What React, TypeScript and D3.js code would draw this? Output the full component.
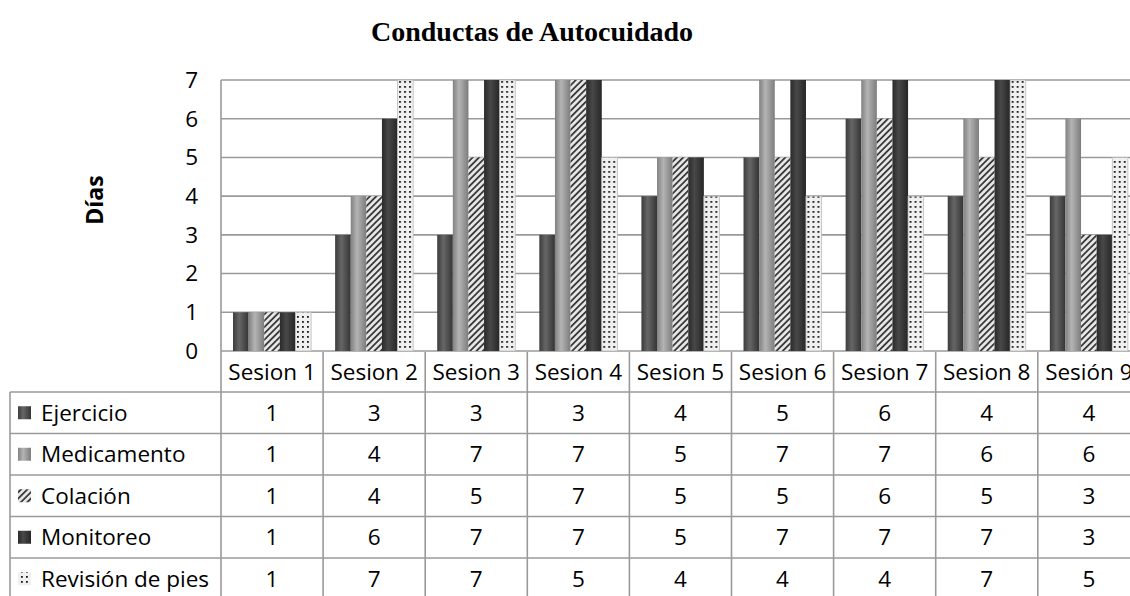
import React from "react";
import * as d3 from "d3";

const sessions = ["Sesion 1", "Sesion 2", "Sesion 3", "Sesion 4", "Sesion 5", "Sesion 6", "Sesion 7", "Sesion 8", "Sesión 9"];
const seriesNames = ["Ejercicio", "Medicamento", "Colación", "Monitoreo", "Revisión de pies"];
const ejercicio = [1, 3, 3, 3, 4, 5, 6, 4, 4];
const medicamento = [1, 4, 7, 7, 5, 7, 7, 6, 6];
const colacion = [1, 4, 5, 7, 5, 5, 6, 5, 3];
const monitoreo = [1, 6, 7, 7, 5, 7, 7, 7, 3];
const revision = [1, 7, 7, 5, 4, 4, 4, 7, 5];
const yTicks = [0, 1, 2, 3, 4, 5, 6, 7];

const seriesValues = [ejercicio, medicamento, colacion, monitoreo, revision];
const fills = ["url(#gEj)", "url(#gMed)", "url(#pCol)", "url(#gMon)", "url(#pRev)"];

const W = 1130;
const H = 596;
const FONT = "'Open Sans', 'Noto Sans', sans-serif";
const FS = 22.5;
const LINE = "#9a9a9a";

const App = () => {
  // scales
  const x = d3.scaleBand().domain(sessions).range([221, 221 + 102.1 * sessions.length]);
  const inner = d3.scaleBand().domain(seriesNames).range([0, x.bandwidth()]).paddingOuter(0.77);
  const y = d3.scaleLinear().domain([0, 7]).range([351, 80]);
  const rowY = d3.scaleBand().domain(seriesNames).range([392, 392 + 41.5 * seriesNames.length]);

  const cyl = (id, a, b, c) => (
    <linearGradient id={id} x1="0" x2="1" y1="0" y2="0">
      <stop offset="0" stopColor={a} />
      <stop offset="0.4" stopColor={b} />
      <stop offset="1" stopColor={c} />
    </linearGradient>
  );

  return (
    <svg width={W} height={H} style={{ position: "absolute", left: 0, top: 0, background: "#fff" }}>
      <defs>
        {cyl("gEj", "#3c3c3c", "#666", "#353535")}
        {cyl("gMed", "#818181", "#b4b4b4", "#7c7c7c")}
        {cyl("gMon", "#2a2a2a", "#484848", "#262626")}
        <pattern id="pCol" width="4.5" height="4.5" patternUnits="userSpaceOnUse" patternTransform="rotate(45)">
          <rect width="4.5" height="4.5" fill="#e6e6e6" />
          <rect width="1.8" height="4.5" fill="#3a3a3a" />
        </pattern>
        <pattern id="pRev" width="5" height="5" patternUnits="userSpaceOnUse">
          <rect width="5" height="5" fill="#f0f0f0" />
          <rect x="1" y="1" width="1.8" height="1.8" fill="#1a1a1a" />
        </pattern>
      </defs>

      <text x={532} y={41} textAnchor="middle" fontFamily="'Liberation Serif', 'Times New Roman', serif" fontWeight="bold" fontSize={28}>
        Conductas de Autocuidado
      </text>

      <text transform="translate(103,200) rotate(-90)" textAnchor="middle" fontFamily={FONT} fontWeight="bold" fontSize={23}>
        Días
      </text>

      {/* gridlines */}
      {yTicks.map((t) => (
        <line key={t} x1={221} x2={W} y1={y(t)} y2={y(t)} stroke={LINE} strokeWidth={1.6} />
      ))}
      {yTicks.map((t) => (
        <text key={"t" + t} x={198} y={y(t)} dy="0.35em" textAnchor="end" fontFamily={FONT} fontSize={FS}>
          {t}
        </text>
      ))}

      {/* bars */}
      {sessions.map((s, i) => (
        <g key={s} transform={`translate(${x(s)},0)`}>
          {seriesNames.map((n, k) => (
            <rect
              key={n}
              x={inner(n)}
              y={y(seriesValues[k][i])}
              width={inner.bandwidth()}
              height={y(0) - y(seriesValues[k][i])}
              fill={fills[k]}
              stroke={k === 4 ? "#bbb" : "none"}
              strokeWidth={0.8}
            />
          ))}
        </g>
      ))}

      {/* table */}
      <line x1={221} x2={221} y1={80} y2={H} stroke={LINE} strokeWidth={1.6} />
      {sessions.map((s) => (
        <line key={"v" + s} x1={x(s) + x.bandwidth()} x2={x(s) + x.bandwidth()} y1={352} y2={H} stroke={LINE} strokeWidth={1.6} />
      ))}
      <line x1={10} x2={10} y1={392} y2={H} stroke={LINE} strokeWidth={1.6} />
      {seriesNames.map((n) => (
        <line key={"h" + n} x1={10} x2={W} y1={rowY(n)} y2={rowY(n)} stroke={LINE} strokeWidth={1.6} />
      ))}
      {sessions.map((s) => (
        <text key={"h" + s} x={x(s) + x.bandwidth() / 2} y={372} dy="0.35em" textAnchor="middle" fontFamily={FONT} fontSize={FS}>
          {s}
        </text>
      ))}
      {seriesNames.map((n, k) => (
        <g key={"r" + n}>
          <rect x={18} y={rowY(n) + rowY.bandwidth() / 2 - 6.5} width={13} height={13} fill={fills[k]} />
          <text x={41} y={rowY(n) + rowY.bandwidth() / 2} dy="0.35em" fontFamily={FONT} fontSize={FS}>
            {n}
          </text>
          {sessions.map((s, i) => (
            <text key={s} x={x(s) + x.bandwidth() / 2} y={rowY(n) + rowY.bandwidth() / 2} dy="0.35em" textAnchor="middle" fontFamily={FONT} fontSize={FS}>
              {seriesValues[k][i]}
            </text>
          ))}
        </g>
      ))}
    </svg>
  );
};

export default App;
